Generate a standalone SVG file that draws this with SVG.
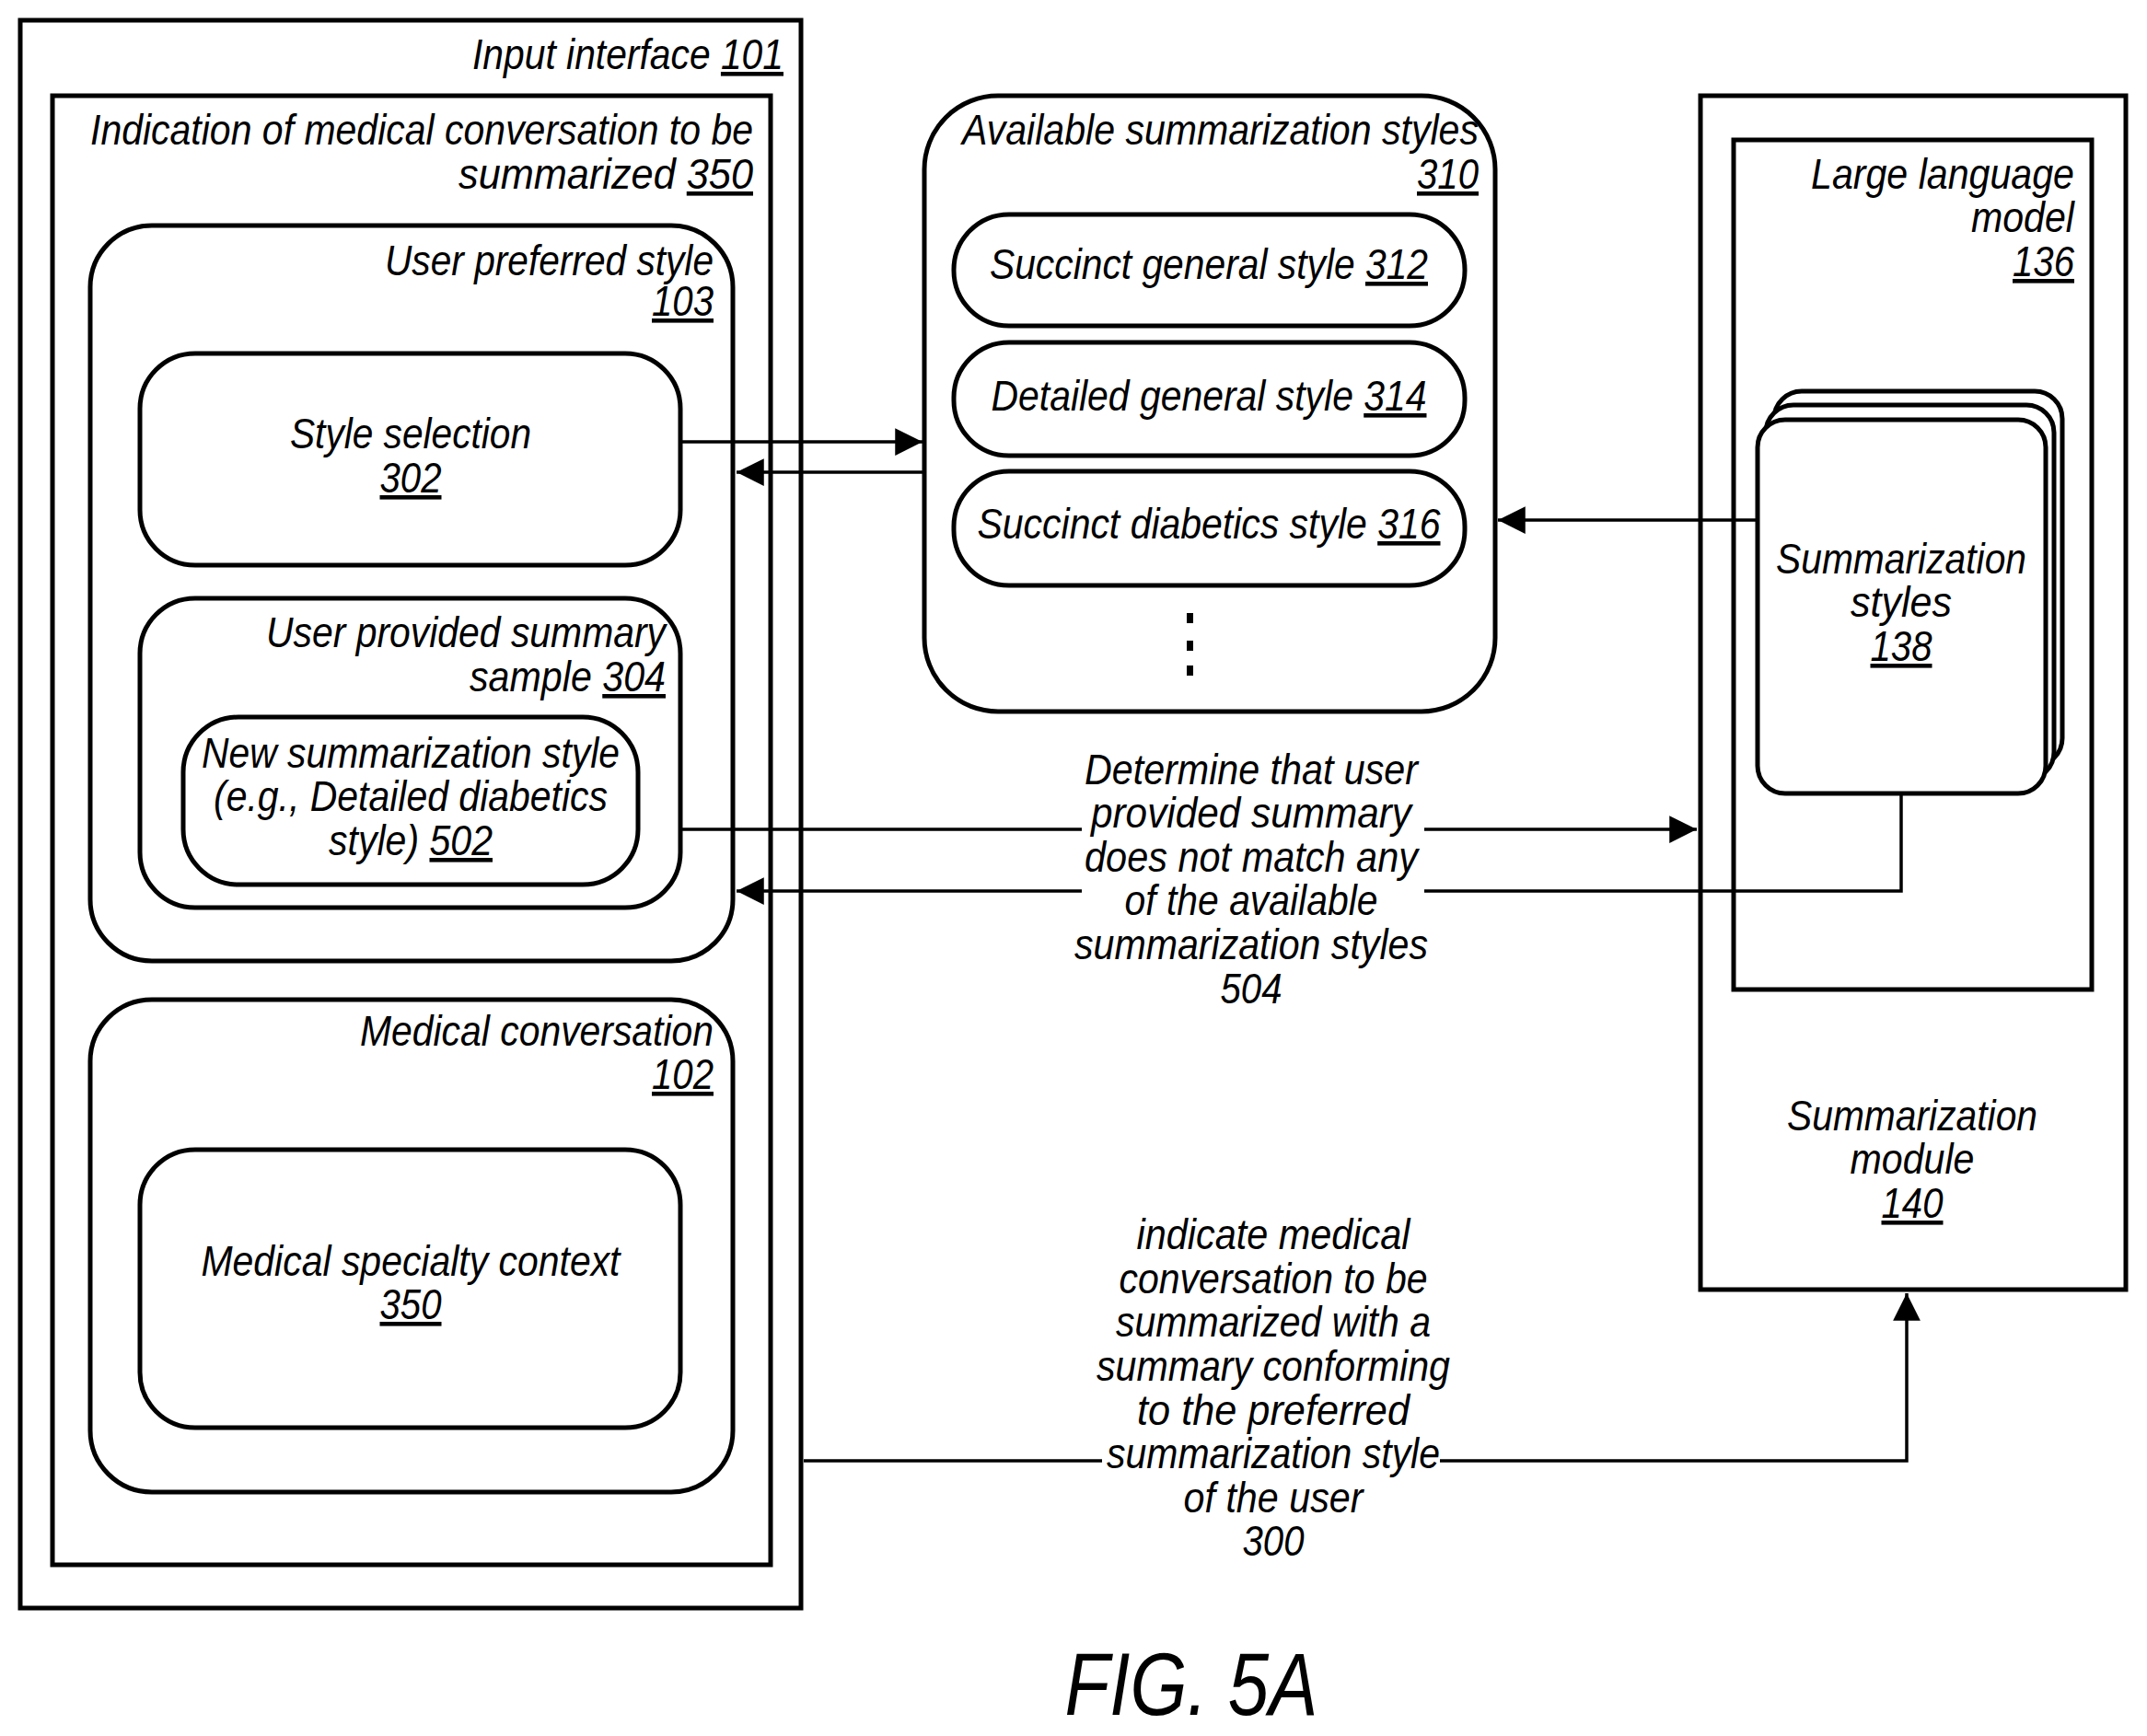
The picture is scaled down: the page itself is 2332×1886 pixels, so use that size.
<svg xmlns="http://www.w3.org/2000/svg" width="2332" height="1886" viewBox="0 0 2332 1886">
<style>
text{font-family:"Liberation Sans",Arial,sans-serif;font-style:italic;font-size:46px;fill:#000}
.r{text-anchor:end}.c{text-anchor:middle}
.u{text-decoration:underline}
.box{fill:#fff;stroke:#000;stroke-width:5}
.ln{fill:none;stroke:#000;stroke-width:3.5}
</style>
<defs>
<marker id="ah" viewBox="0 0 10 10" refX="10" refY="5" markerWidth="8.5" markerHeight="8.5" markerUnits="strokeWidth" orient="auto"><path d="M0,0L10,5L0,10z" fill="#000"/></marker>
</defs>
<rect width="2332" height="1886" fill="#fff"/>
<g id="input-interface">
<rect class="box" x="22" y="22" width="848" height="1725"/>
<text class="r" x="851" y="75" textLength="338" lengthAdjust="spacingAndGlyphs">Input interface <tspan class="u">101</tspan></text>
</g>
<g id="indication">
<rect class="box" x="57" y="104" width="780" height="1596"/>
<text class="r" x="818" y="157" textLength="720" lengthAdjust="spacingAndGlyphs">Indication of medical conversation to be</text>
<text class="r" x="818" y="205" textLength="320" lengthAdjust="spacingAndGlyphs">summarized <tspan class="u">350</tspan></text>
</g>
<g id="user-preferred-style">
<rect class="box" x="98" y="245" width="698" height="799" rx="67"/>
<text class="r" x="775" y="299" textLength="357" lengthAdjust="spacingAndGlyphs">User preferred style</text>
<text class="r u" x="775" y="343" textLength="67" lengthAdjust="spacingAndGlyphs">103</text>
</g>
<g id="style-selection">
<rect class="box" x="152" y="384" width="587" height="230" rx="60"/>
<text class="c" x="446" y="487" textLength="262" lengthAdjust="spacingAndGlyphs">Style selection</text>
<text class="c u" x="446" y="535" textLength="67" lengthAdjust="spacingAndGlyphs">302</text>
</g>
<g id="user-summary-sample">
<rect class="box" x="152" y="650" width="587" height="336" rx="60"/>
<text class="r" x="723" y="703" textLength="434" lengthAdjust="spacingAndGlyphs">User provided summary</text>
<text class="r" x="723" y="751" textLength="213" lengthAdjust="spacingAndGlyphs">sample <tspan class="u">304</tspan></text>
</g>
<g id="new-style">
<rect class="box" x="199" y="779" width="494" height="182" rx="60"/>
<text class="c" x="446" y="834" textLength="454" lengthAdjust="spacingAndGlyphs">New summarization style</text>
<text class="c" x="446" y="881" textLength="428" lengthAdjust="spacingAndGlyphs">(e.g., Detailed diabetics</text>
<text class="c" x="446" y="929" textLength="178" lengthAdjust="spacingAndGlyphs">style) <tspan class="u">502</tspan></text>
</g>
<g id="medical-conversation">
<rect class="box" x="98" y="1086" width="698" height="535" rx="67"/>
<text class="r" x="775" y="1136" textLength="384" lengthAdjust="spacingAndGlyphs">Medical conversation</text>
<text class="r u" x="775" y="1183" textLength="67" lengthAdjust="spacingAndGlyphs">102</text>
</g>
<g id="specialty-context">
<rect class="box" x="152" y="1249" width="587" height="302" rx="60"/>
<text class="c" x="446" y="1386" textLength="455" lengthAdjust="spacingAndGlyphs">Medical specialty context</text>
<text class="c u" x="446" y="1433" textLength="67" lengthAdjust="spacingAndGlyphs">350</text>
</g>
<g id="available-styles">
<rect class="box" x="1004" y="104" width="620" height="669" rx="80"/>
<text class="r" x="1606" y="157" textLength="561" lengthAdjust="spacingAndGlyphs">Available summarization styles</text>
<text class="r u" x="1606" y="205" textLength="67" lengthAdjust="spacingAndGlyphs">310</text>
<rect x="1289" y="666" width="7" height="11"/>
<rect x="1289" y="696" width="7" height="11"/>
<rect x="1289" y="723" width="7" height="11"/>
</g>
<g id="succinct-general">
<rect class="box" x="1036" y="233" width="555" height="121" rx="60"/>
<text class="c" x="1313" y="303" textLength="476" lengthAdjust="spacingAndGlyphs">Succinct general style <tspan class="u">312</tspan></text>
</g>
<g id="detailed-general">
<rect class="box" x="1036" y="372" width="555" height="123" rx="60"/>
<text class="c" x="1313" y="446" textLength="473" lengthAdjust="spacingAndGlyphs">Detailed general style <tspan class="u">314</tspan></text>
</g>
<g id="succinct-diabetics">
<rect class="box" x="1036" y="512" width="555" height="124" rx="60"/>
<text class="c" x="1313" y="585" textLength="503" lengthAdjust="spacingAndGlyphs">Succinct diabetics style <tspan class="u">316</tspan></text>
</g>
<g id="summarization-module">
<rect class="box" x="1847" y="104" width="462" height="1297"/>
<text class="c" x="2077" y="1228" textLength="272" lengthAdjust="spacingAndGlyphs">Summarization</text>
<text class="c" x="2077" y="1275" textLength="135" lengthAdjust="spacingAndGlyphs">module</text>
<text class="c u" x="2077" y="1323" textLength="67" lengthAdjust="spacingAndGlyphs">140</text>
</g>
<g id="llm">
<rect class="box" x="1883" y="152" width="389" height="923"/>
<text class="r" x="2253" y="205" textLength="286" lengthAdjust="spacingAndGlyphs">Large language</text>
<text class="r" x="2253" y="252" textLength="112" lengthAdjust="spacingAndGlyphs">model</text>
<text class="r u" x="2253" y="300" textLength="67" lengthAdjust="spacingAndGlyphs">136</text>
</g>
<g id="summarization-styles">
<rect class="box" x="1927" y="425" width="313" height="407" rx="30"/>
<rect class="box" x="1918" y="440" width="313" height="407" rx="30"/>
<rect class="box" x="1909" y="456" width="313" height="406" rx="30"/>
<text class="c" x="2065" y="623" textLength="272" lengthAdjust="spacingAndGlyphs">Summarization</text>
<text class="c" x="2065" y="670" textLength="110" lengthAdjust="spacingAndGlyphs">styles</text>
<text class="c u" x="2065" y="718" textLength="67" lengthAdjust="spacingAndGlyphs">138</text>
</g>
<g id="connectors">
<line class="ln" x1="739" y1="480" x2="1002" y2="480" marker-end="url(#ah)"/>
<line class="ln" x1="1004" y1="513" x2="800" y2="513" marker-end="url(#ah)"/>
<line class="ln" x1="1909" y1="565" x2="1627" y2="565" marker-end="url(#ah)"/>
<polyline class="ln" points="739,901 1175,901"/>
<line class="ln" x1="1547" y1="901" x2="1843" y2="901" marker-end="url(#ah)"/>
<polyline class="ln" points="2065,862 2065,968 1547,968"/>
<line class="ln" x1="1175" y1="968" x2="800" y2="968" marker-end="url(#ah)"/>
<line class="ln" x1="873" y1="1587" x2="1197" y2="1587"/>
<polyline class="ln" points="1564,1587 2071,1587 2071,1405" marker-end="url(#ah)"/>
<text class="c" x="1359" y="852" textLength="362" lengthAdjust="spacingAndGlyphs">Determine that user</text>
<text class="c" x="1359" y="899" textLength="348" lengthAdjust="spacingAndGlyphs">provided summary</text>
<text class="c" x="1359" y="947" textLength="362" lengthAdjust="spacingAndGlyphs">does not match any</text>
<text class="c" x="1359" y="994" textLength="275" lengthAdjust="spacingAndGlyphs">of the available</text>
<text class="c" x="1359" y="1042" textLength="384" lengthAdjust="spacingAndGlyphs">summarization styles</text>
<text class="c" x="1359" y="1090" textLength="67" lengthAdjust="spacingAndGlyphs">504</text>
<text class="c" x="1383" y="1357" textLength="297" lengthAdjust="spacingAndGlyphs">indicate medical</text>
<text class="c" x="1383" y="1405" textLength="335" lengthAdjust="spacingAndGlyphs">conversation to be</text>
<text class="c" x="1383" y="1452" textLength="342" lengthAdjust="spacingAndGlyphs">summarized with a</text>
<text class="c" x="1383" y="1500" textLength="384" lengthAdjust="spacingAndGlyphs">summary conforming</text>
<text class="c" x="1383" y="1548" textLength="296" lengthAdjust="spacingAndGlyphs">to the preferred</text>
<text class="c" x="1383" y="1595" textLength="362" lengthAdjust="spacingAndGlyphs">summarization style</text>
<text class="c" x="1383" y="1643" textLength="195" lengthAdjust="spacingAndGlyphs">of the user</text>
<text class="c" x="1383" y="1690" textLength="67" lengthAdjust="spacingAndGlyphs">300</text>
</g>
<text class="c" x="1294" y="1863" style="font-size:96px;font-style:italic" textLength="275" lengthAdjust="spacingAndGlyphs">FIG. 5A</text>
</svg>
